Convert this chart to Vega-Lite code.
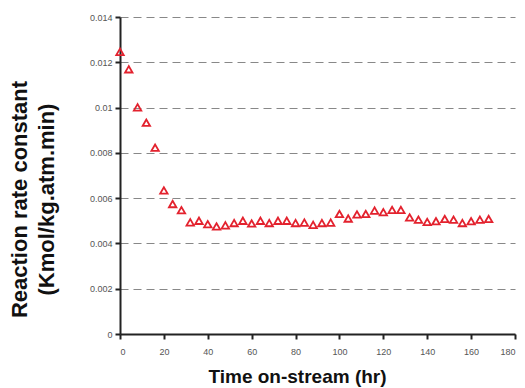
{
  "$schema": "https://vega.github.io/schema/vega-lite/v6.json",
  "width": 395,
  "height": 317,
  "autosize": "none",
  "padding": {"left": 120, "top": 17, "right": 10, "bottom": 54},
  "background": "white",
  "config": {
    "view": {"stroke": null},
    "font": "Liberation Sans"
  },
  "data": {
    "values": [
      {"t": 0, "k": 0.01246},
      {"t": 4, "k": 0.01169},
      {"t": 8, "k": 0.01001},
      {"t": 12, "k": 0.00933},
      {"t": 16, "k": 0.00823},
      {"t": 20, "k": 0.00634},
      {"t": 24, "k": 0.00574},
      {"t": 28, "k": 0.00547},
      {"t": 32, "k": 0.00493},
      {"t": 36, "k": 0.00500},
      {"t": 40, "k": 0.00485},
      {"t": 44, "k": 0.00475},
      {"t": 48, "k": 0.00480},
      {"t": 52, "k": 0.00490},
      {"t": 56, "k": 0.00500},
      {"t": 60, "k": 0.00488},
      {"t": 64, "k": 0.00500},
      {"t": 68, "k": 0.00490},
      {"t": 72, "k": 0.00500},
      {"t": 76, "k": 0.00500},
      {"t": 80, "k": 0.00490},
      {"t": 84, "k": 0.00492},
      {"t": 88, "k": 0.00482},
      {"t": 92, "k": 0.00490},
      {"t": 96, "k": 0.00492},
      {"t": 100, "k": 0.00530},
      {"t": 104, "k": 0.00510},
      {"t": 108, "k": 0.00528},
      {"t": 112, "k": 0.00530},
      {"t": 116, "k": 0.00545},
      {"t": 120, "k": 0.00538},
      {"t": 124, "k": 0.00548},
      {"t": 128, "k": 0.00548},
      {"t": 132, "k": 0.00515},
      {"t": 136, "k": 0.00505},
      {"t": 140, "k": 0.00495},
      {"t": 144, "k": 0.00498},
      {"t": 148, "k": 0.00508},
      {"t": 152, "k": 0.00505},
      {"t": 156, "k": 0.00490},
      {"t": 160, "k": 0.00498},
      {"t": 164, "k": 0.00505},
      {"t": 168, "k": 0.00508}
    ]
  },
  "mark": {
    "type": "point",
    "shape": "triangle-up",
    "filled": false,
    "color": "#e3222e",
    "strokeWidth": 1.8,
    "size": 55,
    "opacity": 1
  },
  "encoding": {
    "x": {
      "field": "t",
      "type": "quantitative",
      "scale": {"domain": [0, 180], "nice": false, "zero": false},
      "axis": {
        "values": [0, 20, 40, 60, 80, 100, 120, 140, 160, 180],
        "grid": false,
        "domainColor": "#222",
        "domainWidth": 2,
        "tickColor": "#222",
        "tickWidth": 2,
        "tickSize": 5,
        "labelFontSize": 9,
        "labelColor": "#555",
        "labelPadding": 8,
        "title": "Time on-stream (hr)",
        "titleFontSize": 19,
        "titleFontWeight": "bold",
        "titleColor": "#111",
        "titleX": 177,
        "titleY": 48,
        "titleBaseline": "alphabetic"
      }
    },
    "y": {
      "field": "k",
      "type": "quantitative",
      "scale": {"domain": [0, 0.014], "nice": false},
      "axis": {
        "values": [0, 0.002, 0.004, 0.006, 0.008, 0.01, 0.012, 0.014],
        "format": "~g",
        "grid": true,
        "gridColor": "#888",
        "gridDash": [8, 5],
        "gridWidth": 1.2,
        "domainColor": "#222",
        "domainWidth": 2,
        "tickColor": "#222",
        "tickWidth": 2,
        "tickSize": 5,
        "labelFontSize": 9,
        "labelColor": "#555",
        "labelPadding": 3,
        "title": ["Reaction rate constant", "(Kmol/kg.atm.min)"],
        "titleFontSize": 22,
        "titleFontWeight": "bold",
        "titleColor": "#111",
        "titleLineHeight": 27,
        "titleX": -111,
        "titleY": 182,
        "titleBaseline": "top",
        "titleAngle": -90
      }
    }
  }
}
